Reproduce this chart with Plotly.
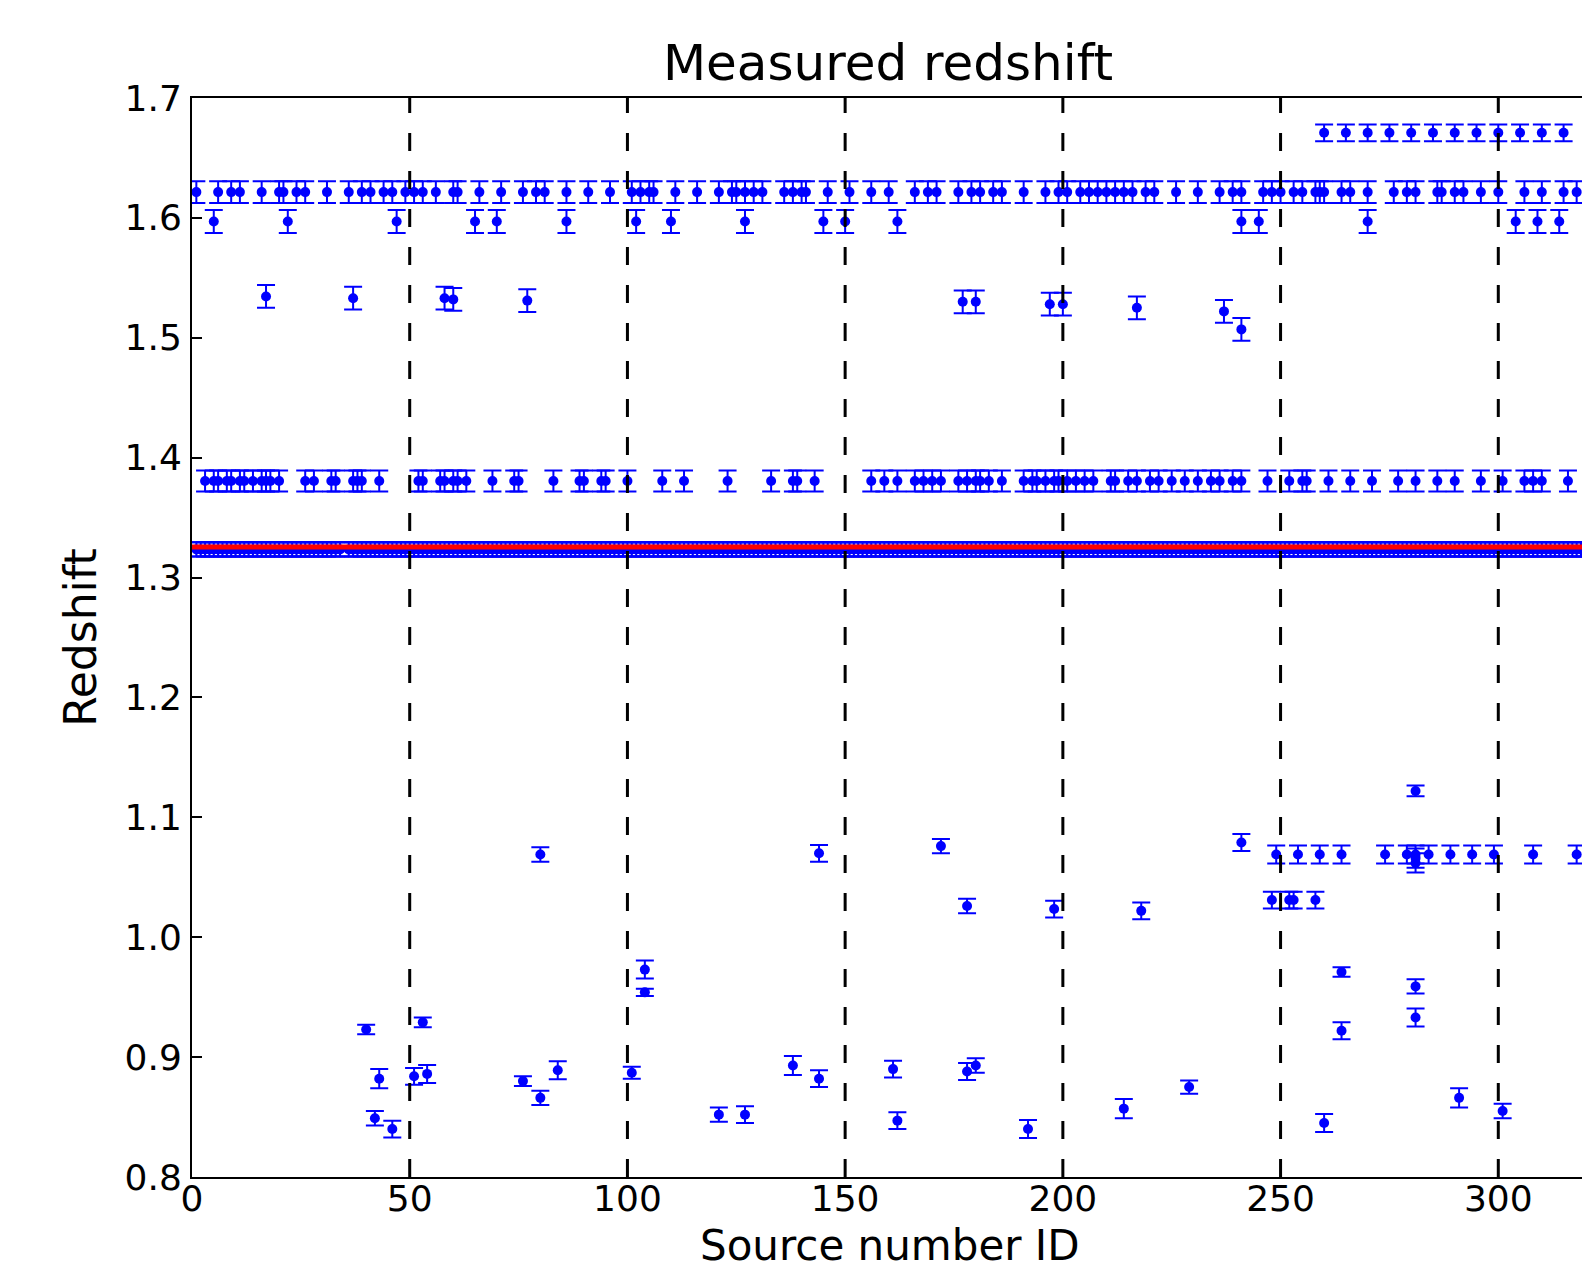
import plotly.graph_objects as go

# ---------------- data ----------------
# Source IDs with a measurement in each redshift "family"
ids_167 = [260, 265, 270, 275, 280, 285, 290, 295, 300, 305, 310, 315]
z_167 = 1.671
ids_162 = [1, 6, 9, 11, 16, 20, 21, 24, 26, 31, 36, 39, 41, 44, 46, 49, 51, 53, 56, 60,
           61, 66, 71, 76, 79, 81, 86, 91, 96, 101, 103, 105, 106, 111, 116, 121, 124,
           125, 127, 129, 131, 136, 138, 140, 141, 146, 151, 156, 160, 166, 169, 171,
           176, 179, 181, 184, 186, 191, 196, 199, 201, 204, 206, 208, 210, 212, 214,
           216, 219, 221, 226, 231, 236, 239, 241, 246, 248, 250, 253, 255, 258, 259,
           260, 264, 266, 270, 276, 279, 281, 286, 287, 290, 292, 296, 300, 306, 310,
           315, 318]
z_162 = 1.6215
ids_160 = [5, 22, 47, 65, 70, 86, 102, 110, 127, 145, 150, 162, 241, 245, 270, 304, 309, 314]
z_160 = 1.597
pts_153_x = [17, 37, 58, 60, 77, 177, 180, 197, 200, 217, 237, 241]
pts_153_z = [1.5345, 1.533, 1.533, 1.532, 1.531, 1.530, 1.530, 1.528, 1.528, 1.525, 1.522, 1.507]
ids_138 = [3, 5, 6, 8, 9, 11, 12, 14, 16, 17, 18, 20, 26, 28, 32, 33, 37, 38, 39, 43,
           52, 53, 57, 58, 60, 61, 63, 69, 74, 75, 83, 89, 90, 94, 95, 100, 108, 113,
           123, 133, 138, 139, 143, 156, 159, 162, 166, 168, 170, 172, 176, 178, 180,
           181, 183, 186, 191, 193, 194, 196, 198, 199, 201, 203, 205, 207, 211, 212,
           215, 217, 220, 222, 225, 228, 231, 234, 236, 239, 241, 247, 252, 255, 256,
           261, 266, 271, 277, 281, 286, 290, 296, 301, 306, 308, 310, 316]
z_138 = 1.3805
# main family: nearly every source, except a few missing IDs
n_sources = 322
missing_132 = [35]
z_132 = 1.3235
z_true = 1.3255   # red reference line

err_167 = 0.007
err_162 = 0.009
err_160 = 0.0095
err_153 = 0.0095
err_138 = 0.0088
err_132 = 0.006

low_x = [40, 42, 43, 46, 51, 53, 54, 76, 80, 80, 84, 101, 104, 104, 121, 127, 138,
         144, 144, 161, 162, 172, 178, 178, 180, 192, 198, 214, 218, 229, 241,
         248, 252, 253, 258, 249, 254, 259, 264, 274, 279, 281, 281, 281, 284, 289,
         294, 299, 308, 318, 260, 264, 264, 281, 281, 281, 291, 301]
low_z = [0.923, 0.849, 0.882, 0.840, 0.884, 0.929, 0.886, 0.880, 0.866, 1.069, 0.889,
         0.887, 0.973, 0.954, 0.852, 0.852, 0.893, 0.882, 1.070, 0.890, 0.847, 1.076,
         1.026, 0.888, 0.893, 0.840, 1.0235, 0.857, 1.022, 0.875, 1.079,
         1.031, 1.031, 1.031, 1.031, 1.069, 1.069, 1.069, 1.069, 1.069, 1.069, 1.069,
         1.066, 1.062, 1.069, 1.069, 1.069, 1.069, 1.069, 1.069, 0.845, 0.971, 0.922,
         1.122, 0.959, 0.933, 0.866, 0.855]
low_err = [0.004, 0.006, 0.008, 0.007, 0.007, 0.004, 0.0075, 0.004, 0.006, 0.006, 0.0075,
           0.005, 0.0075, 0.003, 0.006, 0.007, 0.008, 0.007, 0.007, 0.007, 0.007, 0.006,
           0.006, 0.007, 0.006, 0.0075, 0.007, 0.008, 0.007, 0.0055, 0.007,
           0.007, 0.007, 0.007, 0.007, 0.0075, 0.0075, 0.0075, 0.0075, 0.0075, 0.0075,
           0.0075, 0.008, 0.008, 0.0075, 0.0075, 0.0075, 0.0075, 0.0075, 0.0075,
           0.0075, 0.004, 0.007, 0.0045, 0.006, 0.0075, 0.008, 0.006]

ref_lines = [50, 100, 150, 200, 250, 300]
x_ticks = [0, 50, 100, 150, 200, 250, 300]

# ---------------- figure ----------------
BLUE = "#0000ff"
FONT = "DejaVu Sans"
W, H = 1598, 1288
ML = 192

ids_132 = [i for i in range(1, n_sources + 1) if i not in missing_132]

groups = [
    (ids_132, [z_132] * len(ids_132), [err_132] * len(ids_132)),
    (ids_138, [z_138] * len(ids_138), [err_138] * len(ids_138)),
    (pts_153_x, pts_153_z, [err_153] * len(pts_153_x)),
    (ids_160, [z_160] * len(ids_160), [err_160] * len(ids_160)),
    (ids_162, [z_162] * len(ids_162), [err_162] * len(ids_162)),
    (ids_167, [z_167] * len(ids_167), [err_167] * len(ids_167)),
    (low_x, low_z, low_err),
]

fig = go.Figure()
for xs, zs, es in groups:
    fig.add_trace(go.Scatter(
        x=xs, y=zs, mode="markers",
        marker=dict(color=BLUE, size=10, line=dict(width=0)),
        error_y=dict(type="data", array=es, color=BLUE, thickness=2, width=9),
        showlegend=False, hoverinfo="x+y",
    ))

shapes = [dict(type="line", xref="paper", x0=0, x1=1, yref="y", y0=z_true, y1=z_true,
               line=dict(color="#ff0000", width=5), layer="above")]
for xv in ref_lines:
    shapes.append(dict(type="line", xref="x", x0=xv, x1=xv, yref="paper", y0=0, y1=1,
                       line=dict(color="black", width=3, dash="18px,20px"), layer="above"))

fig.update_layout(
    width=W, height=H,
    margin=dict(l=ML, r=0, t=98, b=111),
    paper_bgcolor="white", plot_bgcolor="white",
    font=dict(family=FONT, color="black"),
    title=dict(text="Measured redshift", font=dict(size=50, family=FONT, color="black"),
               x=(888 - ML) / (W - ML), xref="paper", xanchor="center",
               y=1 - 62.5 / H, yref="container", yanchor="middle"),
    shapes=shapes,
    annotations=[dict(text="Source number ID", xref="paper", yref="paper",
                      x=(890 - ML) / (W - ML), y=0, xanchor="center", yanchor="middle",
                      yshift=-68, showarrow=False,
                      font=dict(size=42, family=FONT, color="black"))],
    xaxis=dict(range=[0, 322.9], tickvals=x_ticks, ticks="inside", ticklen=10, tickwidth=1.5,
               tickcolor="black", showline=True, linecolor="black", linewidth=2,
               mirror="ticks", showgrid=False, zeroline=False, ticklabelstandoff=-11,
               tickfont=dict(size=36, family=FONT, color="black")),
    yaxis=dict(range=[0.8, 1.7], dtick=0.1, tickformat=".1f", ticks="inside", ticklen=10,
               tickwidth=1.5, tickcolor="black", showline=True, linecolor="black",
               linewidth=2, mirror=False, showgrid=False, zeroline=False,
               ticklabelstandoff=1,
               tickfont=dict(size=36, family=FONT, color="black"),
               title=dict(text="Redshift", font=dict(size=44, family=FONT, color="black"),
                          standoff=14)),
    yaxis2=dict(range=[0.8, 1.7], dtick=0.1, overlaying="y", side="right", ticks="inside",
                ticklen=10, tickwidth=1.5, tickcolor="black", showline=False,
                showticklabels=False, showgrid=False, zeroline=False),
)

fig.write_html(
    "out.html",
    config={"displayModeBar": False, "responsive": False},
    post_script=("document.documentElement.style.overflow='hidden';"
                 "document.body.style.margin='0px';"
                 "document.body.style.overflow='hidden';"),
)
